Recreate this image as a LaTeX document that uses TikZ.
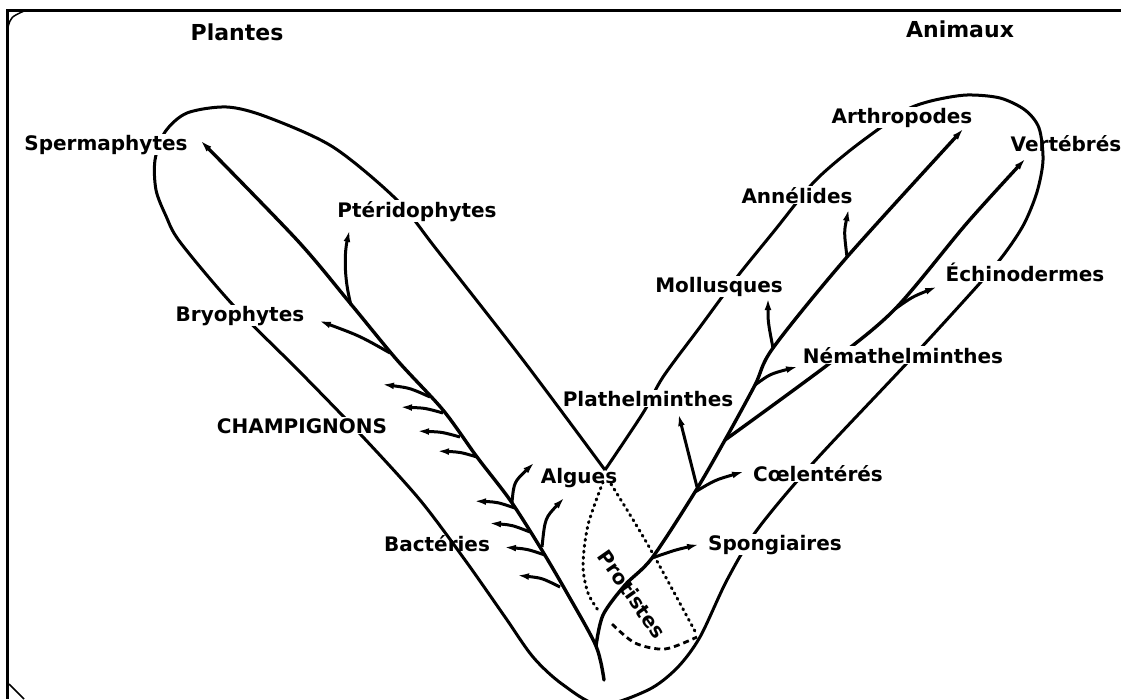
\documentclass[tikz,border=0pt]{standalone}
\usepackage{fontspec}
\setmainfont{DejaVu Sans}
\usetikzlibrary{arrows.meta}
\begin{document}
\begin{tikzpicture}[x=1pt,y=-1pt,
  lbl/.style={font=\bfseries\fontsize{20}{24}\selectfont, fill=white, inner sep=1pt, anchor=base},
  lblc/.style={lbl, fill=none},
  ttl/.style={lbl, font=\bfseries\fontsize{22}{26}\selectfont},
  tube/.style={line width=3pt, line join=round},
  stem/.style={line width=3.4pt, line cap=round},
  tipped/.style={-{Latex[length=14pt,width=6.5pt]}},
  br/.style={line width=3pt, tipped},
  dots/.style={line width=3pt, line cap=round, dash pattern=on 1.2pt off 4.8pt},
  dsh/.style={line width=2.8pt, dash pattern=on 6pt off 4pt},
  frm/.style={line width=3pt}]
\useasboundingbox (0,0) rectangle (1121,699);
\clip (0,0) rectangle (1121,699);

% frame
\coordinate (fTL) at (7,10);
\coordinate (fTR) at (1121,10);
\coordinate (fBL) at (7,699);
\draw[frm] (fTR) -- (fTL) -- (fBL);
\draw[line width=1.5pt] (8,27) .. controls (11,17) .. (24,11);
\draw[line width=1.5pt] (9,684) .. controls (16,691) .. (24,699);

% tube outline (plants and animals)
\coordinate (J) at (605,470);
\draw[tube] plot[smooth] coordinates {(J) (523,360) (437,250) (397,200) (333,147) (267,117) (227,107) (187,113) (165,132) (155,160) (156,190) (166,216) (180,242) (233,305) (300,372) (363,437) (420,500) (465,560) (505,617) (533,657) (562,684) (600,705) (648,690) (677,668) (700,637) (727,580) (757,530) (813,463) (907,363) (980,283) (1005,253) (1024,224) (1037,192) (1043,160) (1039,128) (1025,110) (1000,98) (967,95) (935,100) (910,108) (887,123) (848,152) (813,183) (775,230) (737,277) (700,327) (663,377) (643,413) (J)};

% Protistes region
\draw[dots] plot[smooth] coordinates {(603,482) (588,525) (583,565) (588,593) (600,613)};
\draw[dots] plot[smooth] coordinates {(611,484) (648,545) (697,635)};
\draw[dsh] plot[smooth] coordinates {(612,624) (635,643) (665,649) (697,637)};

% trunk and plant stem
\coordinate (T0) at (604,680);
\coordinate (T1) at (596,646);
\coordinate (tSp) at (199,139);
\draw[stem, tipped] plot[smooth] coordinates {(T0) (T1) (567,593) (540,547) (510,500) (477,457) (443,410) (397,360) (350,303) (297,240) (tSp)};

% plant branches
\coordinate (jPt) at (351,305); \coordinate (tPt) at (350,228);
\draw[br] (jPt) .. controls (343,275) and (345,250) .. (tPt);
\coordinate (jBr) at (390,353); \coordinate (tBr) at (317,320);
\draw[br] (jBr) .. controls (360,336) .. (tBr);
% champignons
\coordinate (jC1) at (430,397); \coordinate (tC1) at (380,384);
\coordinate (jC2) at (443,413); \coordinate (tC2) at (398,407);
\coordinate (jC3) at (460,437); \coordinate (tC3) at (415,431);
\coordinate (jC4) at (477,457); \coordinate (tC4) at (435,451);
\draw[br] (jC1) .. controls (410,388) .. (tC1);
\draw[br] (jC2) .. controls (425,408) .. (tC2);
\draw[br] (jC3) .. controls (442,432) .. (tC3);
\draw[br] (jC4) .. controls (460,452) .. (tC4);
% bacteries
\coordinate (jB1) at (515,508); \coordinate (tB1) at (472,501);
\coordinate (jB2) at (530,532); \coordinate (tB2) at (487,523);
\coordinate (jB3) at (545,555); \coordinate (tB3) at (502,547);
\coordinate (jB4) at (560,587); \coordinate (tB4) at (515,575);
\draw[br] (jB1) .. controls (497,502) .. (tB1);
\draw[br] (jB2) .. controls (512,525) .. (tB2);
\draw[br] (jB3) .. controls (527,549) .. (tB3);
\draw[br] (jB4) .. controls (542,578) .. (tB4);
% algues
\coordinate (jA1) at (512,502); \coordinate (tA1) at (536,461);
\coordinate (jA2) at (542,547); \coordinate (tA2) at (566,496);
\draw[br] (jA1) .. controls (514,482) .. (tA1);
\draw[br] (jA2) .. controls (545,518) .. (tA2);

% animal stem
\coordinate (jSg) at (652,558);
\coordinate (jCo) at (695,492);
\coordinate (jVe) at (725,440);
\coordinate (jNe) at (755,385);
\coordinate (jMo) at (773,348);
\coordinate (jAn) at (847,257);
\coordinate (tAr) at (965,127);
\draw[stem, tipped] plot[smooth] coordinates {(T1) (603,615) (625,585) (jSg) (jCo) (jVe) (jNe) (jMo) (jAn) (tAr)};

% Vertebres branch
\coordinate (jEc) at (895,309);
\coordinate (tVe) at (1027,157);
\draw[stem, tipped] plot[smooth] coordinates {(jVe) (830,363) (jEc) (967,223) (tVe)};

% animal side branches
\coordinate (tSg) at (701,544);
\draw[br] (jSg) .. controls (675,550) .. (tSg);
\coordinate (tCo) at (746,471);
\draw[br] (jCo) .. controls (715,480) .. (tCo);
\coordinate (jPl) at (697,487); \coordinate (tPl) at (678,412);
\draw[br] (jPl) -- (tPl);
\coordinate (tNe) at (800,366);
\draw[br] (jNe) .. controls (770,374) .. (tNe);
\coordinate (tEc) at (939,286);
\draw[br] (jEc) .. controls (912,297) .. (tEc);
\coordinate (tMo) at (768,296);
\draw[br] (jMo) .. controls (768,322) .. (tMo);
\coordinate (tAn) at (849,207);
\draw[br] (jAn) .. controls (844,232) .. (tAn);

% labels
\node[ttl] (plantes) at (237,40) {Plantes};
\node[ttl] (animaux) at (960,37) {Animaux};
\node[lbl] (sperma) at (106,150) {Spermaphytes};
\node[lbl] (pteri) at (417,217) {Ptéridophytes};
\node[lbl] (bryo) at (240,321) {Bryophytes};
\node[lbl] (champ) at (302,433) {CHAMPIGNONS};
\node[lblc] (algues) at (579,483) {Algues};
\node[lblc] (bact) at (437,551) {Bactéries};
\node[lbl] (arthro) at (902,123) {Arthropodes};
\node[lblc] (verte) at (1066,151) {Vertébrés};
\node[lbl] (anne) at (797,203) {Annélides};
\node[lbl] (mollu) at (719,292) {Mollusques};
\node[lbl] (echi) at (1025,281) {Échinodermes};
\node[lbl] (nema) at (903,363) {Némathelminthes};
\node[lbl] (plat) at (648,406) {Plathelminthes};
\node[lbl] (coel) at (818,481) {Cœlentérés};
\node[lbl] (spon) at (775,550) {Spongiaires};
\node[font=\bfseries\fontsize{20}{24}\selectfont, inner sep=0pt, rotate=-55] (prot) at (632,594) {Protistes};
\end{tikzpicture}
\end{document}
